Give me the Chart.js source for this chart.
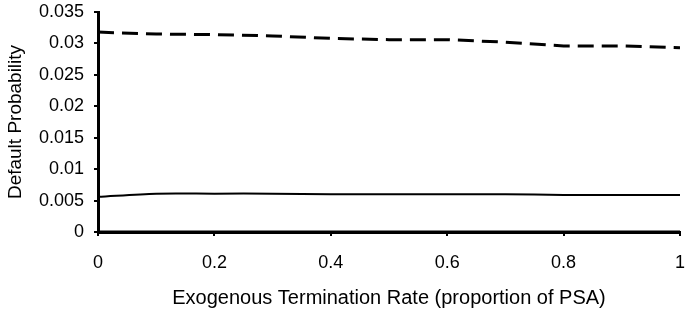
<!DOCTYPE html>
<html>
<head>
<meta charset="utf-8">
<script src="https://cdn.jsdelivr.net/npm/chart.js@4/dist/chart.umd.min.js"></script>
<style>
  html, body { margin: 0; padding: 0; background: #fff; }
  #wrap { width: 686px; height: 316px; }
</style>
</head>
<body>
<div id="wrap"><canvas id="lineChart"></canvas></div>
<script>
var rates = [0, 0.1, 0.2, 0.3, 0.4, 0.5, 0.6, 0.7, 0.8, 0.9, 1];
var upperSeries = [0.0318, 0.0315, 0.0314, 0.0312, 0.0308, 0.0306, 0.0306, 0.0302, 0.0296, 0.0296, 0.0293];
var middleSeries = [0.0056, 0.0061, 0.0061, 0.0061, 0.0060, 0.0060, 0.0060, 0.0060, 0.0059, 0.0059, 0.0059];
var lowerSeries = [0, 0, 0, 0, 0, 0, 0, 0, 0, 0, 0];
var yTicks = [0, 0.005, 0.01, 0.015, 0.02, 0.025, 0.03, 0.035];
var xTicks = [0, 0.2, 0.4, 0.6, 0.8, 1];

function pts(values) {
    return rates.map(function(r, i) { return { x: r, y: values[i] }; });
}

document.addEventListener("DOMContentLoaded", function() {
    var ctx = document.getElementById('lineChart').getContext('2d');
    new Chart(ctx, {
        type: 'line',
        data: {
            datasets: [
                {
                    data: pts(upperSeries),
                    borderColor: '#000',
                    borderWidth: 3,
                    borderDash: [16, 8],
                    pointRadius: 0,
                    tension: 0
                },
                {
                    data: pts(middleSeries),
                    borderColor: '#000',
                    borderWidth: 2,
                    pointRadius: 0,
                    tension: 0.3
                },
                {
                    data: pts(lowerSeries),
                    borderColor: '#000',
                    borderWidth: 3,
                    pointRadius: 0
                }
            ]
        },
        options: {
            responsive: true,
            maintainAspectRatio: false,
            animation: false,
            layout: { padding: { top: 12, right: 6, left: 0, bottom: 4 } },
            plugins: {
                legend: { display: false },
                tooltip: { enabled: false }
            },
            scales: {
                x: {
                    type: 'linear',
                    min: 0,
                    max: 1,
                    afterBuildTicks: function(axis) {
                        axis.ticks = xTicks.map(function(v) { return { value: v }; });
                    },
                    afterFit: function(axis) {
                        axis.height = 80;
                        // edge padding is handled by layout.padding
                        axis.paddingLeft = 0;
                        axis.paddingRight = 0;
                    },
                    grid: { display: true, drawOnChartArea: false, color: '#000', lineWidth: 2, tickLength: 4 },
                    border: { color: '#000', width: 3 },
                    ticks: {
                        color: '#000',
                        padding: 16,
                        font: { family: 'Liberation Sans', size: 18 },
                        callback: function(v) { return String(v); }
                    },
                    title: {
                        display: true,
                        text: 'Exogenous Termination Rate (proportion of PSA)',
                        color: '#000',
                        font: { family: 'Liberation Sans', size: 20 },
                        padding: { top: 4, bottom: 2 }
                    }
                },
                y: {
                    min: 0,
                    max: 0.035,
                    afterBuildTicks: function(axis) {
                        axis.ticks = yTicks.map(function(v) { return { value: v }; });
                    },
                    afterFit: function(axis) {
                        axis.width = 98;
                        axis.paddingTop = 0;
                        axis.paddingBottom = 0;
                    },
                    grid: { display: true, drawOnChartArea: false, color: '#000', lineWidth: 2, tickLength: 4 },
                    border: { color: '#000', width: 3 },
                    ticks: {
                        color: '#000',
                        padding: 10,
                        font: { family: 'Liberation Sans', size: 18, lineHeight: 1 },
                        callback: function(v) { return String(v); }
                    },
                    title: {
                        display: true,
                        text: 'Default Probability',
                        color: '#000',
                        font: { family: 'Liberation Sans', size: 19 },
                        padding: { top: 4, bottom: 4 }
                    }
                }
            }
        }
    });
});
</script>
</body>
</html>
